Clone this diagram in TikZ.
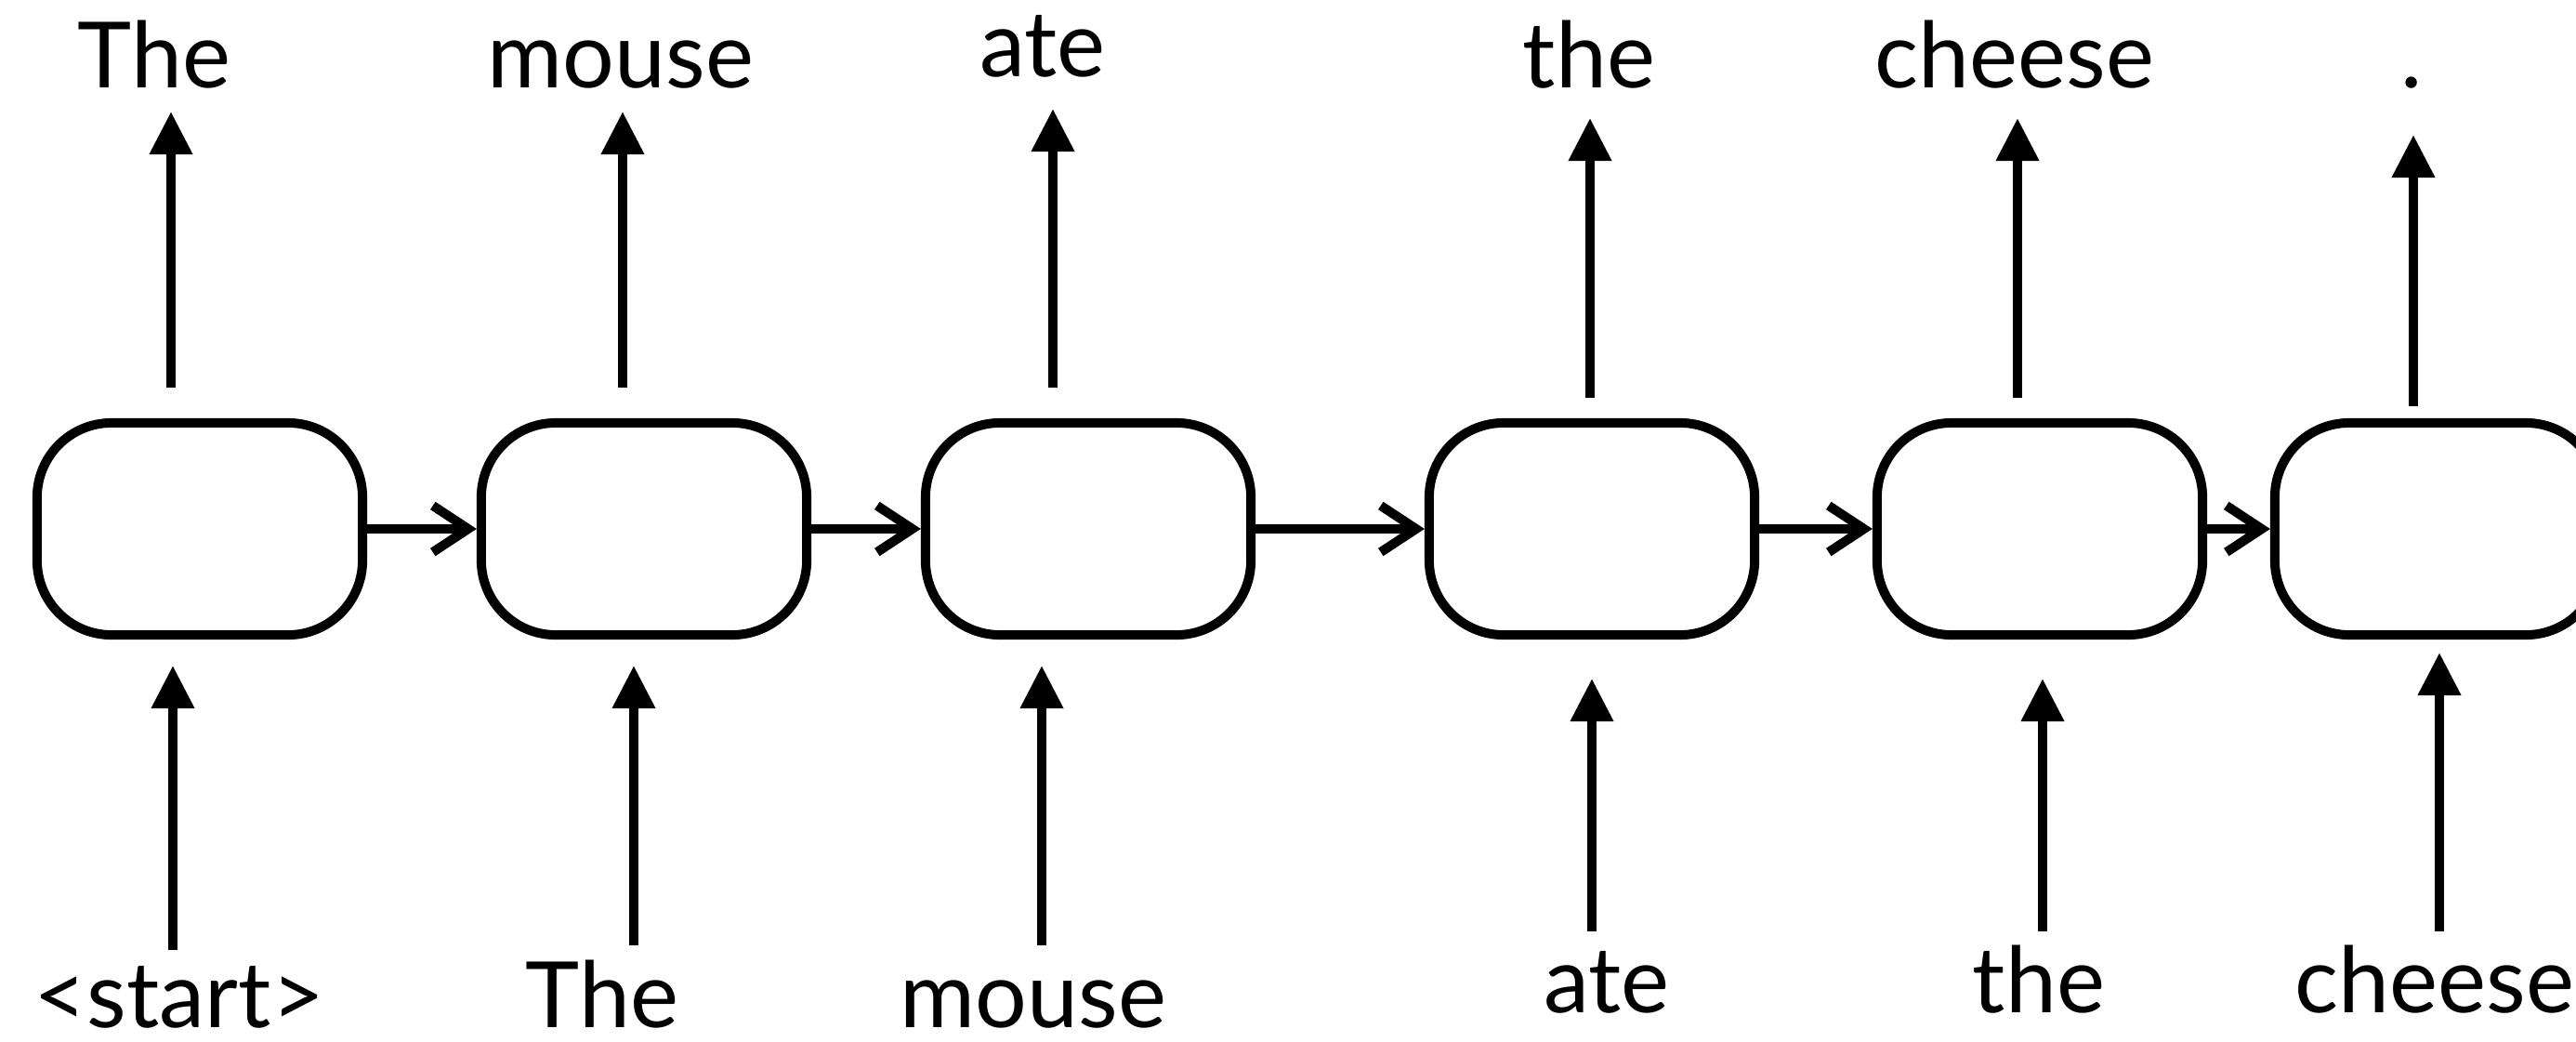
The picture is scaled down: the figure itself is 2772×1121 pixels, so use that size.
\documentclass[tikz,border=0pt]{standalone}
\usepackage{fontspec}
\setmainfont{Lato}
\usetikzlibrary{arrows.meta}

\tikzset{
  cell/.style={draw,line width=1mm,rounded corners=8mm,minimum width=35mm,minimum height=22.8mm,inner sep=0pt},
  word/.style={anchor=base,inner sep=0pt,font=\fontsize{28}{32}\selectfont},
  vup/.style={line width=1mm,-{Triangle[length=4.6mm,width=4.4mm]}},
  hright/.style={line width=1mm,-{Straight Barb[length=3.8mm,width=5mm]}}
}

\begin{document}
\begin{tikzpicture}[x=0.01cm,y=-0.01cm]
\useasboundingbox (0,0) rectangle (2772,1121);
\clip (0,0) rectangle (2772,1121);
% recurrent cells
\node[cell] (cell1) at (215,569) {};
\node[cell] (cell2) at (693,569) {};
\node[cell] (cell3) at (1171,569) {};
\node[cell] (cell4) at (1713,569) {};
\node[cell] (cell5) at (2195,569) {};
\node[cell] (cell6) at (2623,569) {};
% hidden state passed along
\draw[hright] (cell1) -- (cell2);
\draw[hright] (cell2) -- (cell3);
\draw[hright] (cell3) -- (cell4);
\draw[hright] (cell4) -- (cell5);
\draw[hright] (cell5) -- (cell6);
% predicted words
\node[word] (out1) at (166,94) {The};
\node[word] (out2) at (668,94) {mouse};
\node[word] (out3) at (1122,82) {ate};
\node[word] (out4) at (1710,94) {the};
\node[word] (out5) at (2168,94) {cheese};
\node[word] (out6) at (2595,94) {.};
% input words
\node[word] (in1) at (193,1105) {<start>};
\node[word] (in2) at (648,1105) {The};
\node[word] (in3) at (1112,1105) {mouse};
\node[word] (in4) at (1729,1089) {ate};
\node[word] (in5) at (2194,1089) {the};
\node[word] (in6) at (2620,1089) {cheese};
% arrow ends, cell side and word side
\coordinate (o1a) at (184,417);  \coordinate (o1b) at (184,120);
\coordinate (o2a) at (670,417);  \coordinate (o2b) at (670,120);
\coordinate (o3a) at (1133,417); \coordinate (o3b) at (1133,117);
\coordinate (o4a) at (1711,428); \coordinate (o4b) at (1711,127);
\coordinate (o5a) at (2171,428); \coordinate (o5b) at (2171,127);
\coordinate (o6a) at (2597,437); \coordinate (o6b) at (2597,145);
\coordinate (i1a) at (186,1022);  \coordinate (i1b) at (186,716);
\coordinate (i2a) at (682,1017);  \coordinate (i2b) at (682,716);
\coordinate (i3a) at (1121,1017); \coordinate (i3b) at (1121,716);
\coordinate (i4a) at (1713,1002); \coordinate (i4b) at (1713,730);
\coordinate (i5a) at (2198,1002); \coordinate (i5b) at (2198,730);
\coordinate (i6a) at (2625,1002); \coordinate (i6b) at (2625,702);
% outputs
\draw[vup] (o1a) -- (o1b);
\draw[vup] (o2a) -- (o2b);
\draw[vup] (o3a) -- (o3b);
\draw[vup] (o4a) -- (o4b);
\draw[vup] (o5a) -- (o5b);
\draw[vup] (o6a) -- (o6b);
% inputs
\draw[vup] (i1a) -- (i1b);
\draw[vup] (i2a) -- (i2b);
\draw[vup] (i3a) -- (i3b);
\draw[vup] (i4a) -- (i4b);
\draw[vup] (i5a) -- (i5b);
\draw[vup] (i6a) -- (i6b);
\end{tikzpicture}
\end{document}
